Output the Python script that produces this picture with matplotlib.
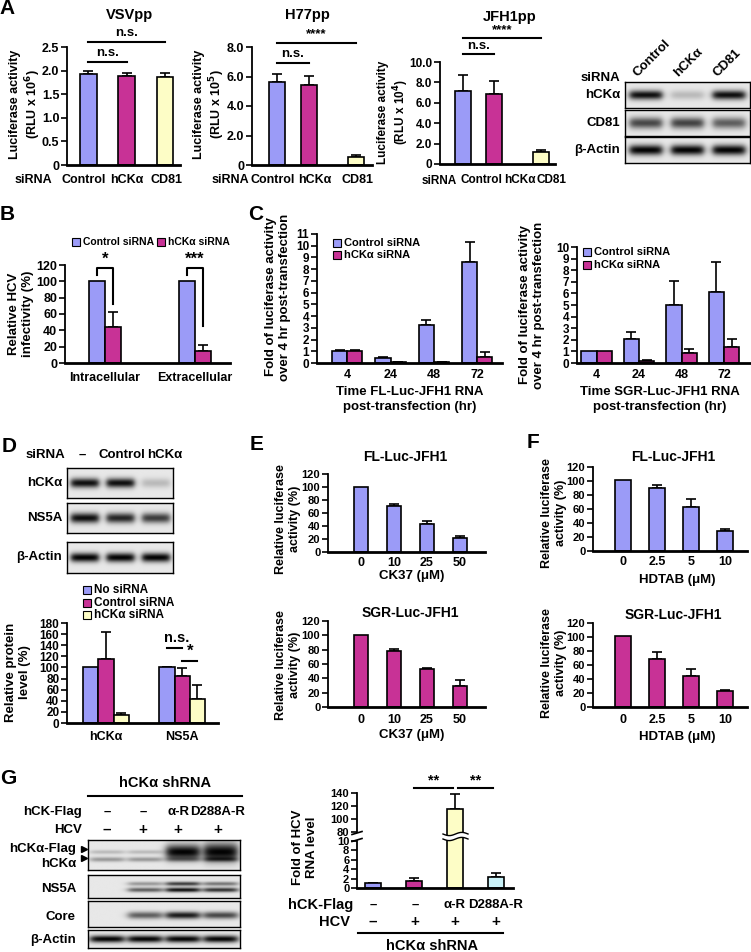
import numpy as np
import matplotlib
matplotlib.use('Agg')
import matplotlib.pyplot as plt
import matplotlib.font_manager as fm
from matplotlib.patches import Rectangle, Polygon
from matplotlib.lines import Line2D

names = {f.name for f in fm.fontManager.ttflist}
NARROW = 'Liberation Sans Narrow' if 'Liberation Sans Narrow' in names else 'Liberation Sans'
plt.rcParams['font.family'] = [NARROW, 'DejaVu Sans']
plt.rcParams['font.weight'] = 'bold'

W, H = 751, 952

# ---------------- data ----------------
a_labels = ['Control', 'hCKα', 'CD81']
vsv_mean = [1.92, 1.89, 1.87]
vsv_err = [0.07, 0.06, 0.07]
h77_mean = [5.65, 5.45, 0.55]
h77_err = [0.55, 0.6, 0.12]
jfh_mean = [7.2, 6.9, 1.2]
jfh_err = [1.5, 1.25, 0.2]

b_groups = ['Intracellular', 'Extracellular']
b_ctrl = [100, 100]
b_hcka = [44, 15]
b_hcka_err = [19, 7]

c_times = ['4', '24', '48', '72']
c_fl_ctrl = [1.0, 0.4, 3.25, 8.65]
c_fl_ctrl_err = [0.08, 0.12, 0.45, 1.65]
c_fl_hcka = [1.05, 0.05, 0.05, 0.55]
c_fl_hcka_err = [0.07, 0.02, 0.02, 0.35]
c_sgr_ctrl = [1.0, 2.05, 5.0, 6.15]
c_sgr_ctrl_err = [0.0, 0.6, 2.05, 2.6]
c_sgr_hcka = [1.0, 0.2, 0.85, 1.4]
c_sgr_hcka_err = [0.0, 0.05, 0.4, 0.7]

d_groups = ['hCKα', 'NS5A']
d_none = [100, 100]
d_none_err = [0, 1]
d_ctrl = [116, 84]
d_ctrl_err = [47, 15]
d_hcka = [14, 44]
d_hcka_err = [4, 25]

e_doses = ['0', '10', '25', '50']
e_fl = [100, 70, 43, 22]
e_fl_err = [0, 3.5, 5, 3]
e_sgr = [100, 78, 53, 29]
e_sgr_err = [0, 3, 2, 8]

f_doses = ['0', '2.5', '5', '10']
f_fl = [101, 90, 63, 29]
f_fl_err = [0, 4, 11, 3]
f_sgr = [101, 68, 45, 23]
f_sgr_err = [0, 10, 9, 2]

g_flag = ['–', '–', 'α-R', 'D288A-R']
g_hcv = ['–', '+', '+', '+']
g_rna = [1.0, 1.4, 115, 2.4]
g_rna_err = [0.1, 0.8, 23, 0.8]

# blot band darkness per lane (0 none .. 1 saturated)
a_blot_hcka = [0.95, 0.2, 0.95]
a_blot_cd81 = [0.7, 0.72, 0.6]
a_blot_actin = [1.0, 1.0, 1.0]
d_blot_hcka = [0.95, 0.95, 0.2]
d_blot_ns5a = [0.95, 0.85, 0.75]
d_blot_actin = [1.0, 1.0, 1.0]
g_blot_flag = [0.2, 0.2, 1.0, 1.0]
g_blot_endo = [0.35, 0.35, 0.3, 0.4]
g_blot_ns5a_up = [0.0, 0.35, 0.75, 0.5]
g_blot_ns5a_lo = [0.0, 0.6, 0.95, 0.8]
g_blot_core = [0.0, 0.6, 0.9, 0.7]
g_blot_actin = [1.0, 1.0, 1.0, 1.0]

BLUE = '#9b9bf7'
MAG = '#c83296'
YEL = '#fdfdc6'
CYAN = '#c9f1f7'

fig = plt.figure(figsize=(W / 100, H / 100), dpi=100)


def fx(x):
    return x / W


def fy(y):
    return 1 - y / H


def add_ax(x0, y0, x1, y1):
    return fig.add_axes([fx(x0), fy(y1), (x1 - x0) / W, (y1 - y0) / H])


def T(x, y, s, size=9, ha='center', va='center', rot=0, **kw):
    fig.text(fx(x), fy(y), s, fontsize=size, ha=ha, va=va, rotation=rot,
             fontweight='bold', **kw)


def letter(x, y, s):
    T(x, y, s, size=15, family='Liberation Sans')


def style(ax, ylim, yticks, xlim, ylabels=None, tsize=8, pad=5, xsize=9):
    for s in ['top', 'right']:
        ax.spines[s].set_visible(False)
    ax.spines['left'].set_linewidth(1.3)
    ax.spines['bottom'].set_linewidth(2)
    ax.set_ylim(*ylim)
    ax.set_xlim(*xlim)
    ax.set_yticks(yticks)
    if ylabels is not None:
        ax.set_yticklabels(ylabels)
    ax.tick_params(axis='y', direction='out', length=4, width=1.2,
                   labelsize=tsize, pad=1.5)
    ax.tick_params(axis='x', length=0, labelsize=xsize, pad=pad)
    ax.patch.set_alpha(0)


def bars(ax, pos, vals, errs, color, width):
    pos = np.asarray(pos, float)
    vals = np.asarray(vals, float)
    errs = np.asarray(errs, float)
    ax.bar(pos, vals, width, color=color, edgecolor='black', linewidth=1.2, zorder=2)
    m = errs > 0
    ax.errorbar(pos[m], vals[m], yerr=[np.zeros(m.sum()), errs[m]], fmt='none',
                ecolor='black', elinewidth=1.2, capsize=3.5, capthick=1.2, zorder=1)


def legend_item(x, y, color, label, size=8):
    fig.add_artist(Rectangle((fx(x), fy(y + 4)), 8 / W, 8 / H, facecolor=color,
                             edgecolor='black', lw=0.8, transform=fig.transFigure))
    T(x + 11, y, label, size=size, ha='left')


def blot(x0, y0, x1, y1, rows, bw=0.26):
    ax = add_ax(x0, y0, x1, y1)
    xs = np.linspace(0, 1, 300)
    ys = np.linspace(0, 1, 80)
    X, Y = np.meshgrid(xs, ys)
    img = np.full_like(X, 0.91)
    for levels, ypos, thick in rows:
        n = len(levels)
        thick = np.broadcast_to(thick, (n,))
        for i, lv in enumerate(levels):
            c = (i + 0.5) / n
            px_ = 1 / (1 + np.exp((np.abs(X - c) - bw / 2) / 0.015))
            py_ = np.exp(-((Y - ypos) / thick[i]) ** 2)
            img = img - lv * 0.9 * px_ * py_
    img = np.clip(img, 0, 1)
    ax.imshow(img, cmap='gray', vmin=0, vmax=1, aspect='auto',
              extent=(0, 1, 0, 1), origin='lower')
    ax.set_xticks([])
    ax.set_yticks([])
    for s in ax.spines.values():
        s.set_linewidth(1.0)
    return ax


# ================= A =================
letter(7, 9, 'A')
sig_kw = dict(color='black', lw=1.5, clip_on=False)

ax = add_ax(67, 47, 180, 165)
pos = np.array([0, 1, 2])
bars(ax, pos, vsv_mean, vsv_err, [BLUE, MAG, YEL], 0.44)
style(ax, (0, 2.5), [0, 0.5, 1.0, 1.5, 2.0, 2.5], (-0.55, 2.39),
      ['0', '0.5', '1.0', '1.5', '2.0', '2.5'], pad=6.5, tsize=9)
ax.set_xticks([-0.12, 1, 2.05], a_labels)
ax.plot([0, 2], [2.61, 2.61], **sig_kw)
ax.plot([0, 1], [2.18, 2.18], **sig_kw)
ax.text(1, 2.68, 'n.s.', ha='center', va='bottom', fontsize=9.5)
ax.text(0.5, 2.25, 'n.s.', ha='center', va='bottom', fontsize=9.5)
T(130, 15, 'VSVpp', size=10.5)
T(33, 180, 'siRNA', size=9)
T(26, 104, 'Luciferase activity\n(RLU x 10$^{\\mathbf{6}}$)', size=9, rot=90)

ax = add_ax(252, 47, 372, 165)
pos = np.array([0, 0.8, 2])
bars(ax, pos, h77_mean, h77_err, [BLUE, MAG, YEL], 0.4)
style(ax, (0, 8), [0, 2, 4, 6, 8], (-0.63, 2.4),
      ['0', '2.0', '4.0', '6.0', '8.0'], pad=6.5, tsize=9)
ax.set_xticks([-0.1, 0.96, 2.03], a_labels)
ax.plot([0, 2], [8.27, 8.27], **sig_kw)
ax.plot([0, 0.8], [6.92, 6.92], **sig_kw)
ax.text(1, 8.45, '****', ha='center', va='bottom', fontsize=9.5)
ax.text(0.4, 7.1, 'n.s.', ha='center', va='bottom', fontsize=9.5)
T(307, 15, 'H77pp', size=10.5)
T(230, 180, 'siRNA', size=9)
T(210, 104, 'Luciferase activity\n(RLU x 10$^{\\mathbf{5}}$)', size=9, rot=90)

ax = add_ax(440, 62, 555, 164)
pos = np.array([0, 0.8, 2])
bars(ax, pos, jfh_mean, jfh_err, [BLUE, MAG, YEL], 0.4)
style(ax, (0, 10), [0, 2, 4, 6, 8, 10], (-0.59, 2.36),
      ['0', '2.0', '4.0', '6.0', '8.0', '10.0'], pad=7.5, tsize=8.5, xsize=8.5)
ax.set_xticks([0.48, 1.46, 2.28], a_labels)
ax.plot([0, 2], [12.35, 12.35], **sig_kw)
ax.plot([0, 0.8], [10.8, 10.8], **sig_kw)
ax.text(1, 12.55, '****', ha='center', va='bottom', fontsize=9.5)
ax.text(0.4, 11.0, 'n.s.', ha='center', va='bottom', fontsize=9.5)
T(510, 17, 'JFH1pp', size=10.5)
T(439, 181, 'siRNA', size=8.5)
T(394, 112, 'Luciferase activity\n(RLU x 10$^{\\mathbf{4}}$)', size=8.5, rot=90)

# A blot
blot(625, 82, 750, 108, [(a_blot_hcka, 0.5, 0.18)])
blot(625, 110, 750, 136, [(a_blot_cd81, 0.5, 0.22)])
blot(625, 137, 750, 163, [(a_blot_actin, 0.5, 0.2)])
T(620, 78, 'siRNA', ha='right', size=9.5)
T(620, 95, 'hCKα', ha='right', size=9.5)
T(620, 123, 'CD81', ha='right', size=9.5)
T(620, 150, 'β-Actin', ha='right', size=9.5)
for lx, lab in zip([640, 680, 720], a_labels):
    fig.text(fx(lx), fy(79), lab, rotation=45, rotation_mode='anchor',
             ha='left', va='bottom', fontsize=9.5, fontweight='bold')

# ================= B =================
letter(7, 215, 'B')
ax = add_ax(65, 265, 230, 363)
pos = np.arange(2)
bars(ax, pos - 0.089, b_ctrl, [0, 0], BLUE, 0.178)
bars(ax, pos + 0.089, b_hcka, b_hcka_err, MAG, 0.178)
style(ax, (0, 120), np.arange(0, 121, 20), (-0.444, 1.389), pad=6.5, tsize=9)
ax.set_xticks(pos, b_groups)
ax.plot([-0.089, -0.089, 0.089, 0.089], [108, 116, 116, 72], **sig_kw)
ax.plot([0.911, 0.911, 1.089, 1.089], [108, 116, 116, 45], **sig_kw)
ax.text(0, 118, '*', ha='center', va='bottom', fontsize=12)
ax.text(1, 118, '***', ha='center', va='bottom', fontsize=12)
legend_item(72, 242, BLUE, 'Control siRNA', size=7.5)
legend_item(157, 242, MAG, 'hCKα siRNA', size=7.5)
T(21, 314, 'Relative HCV\ninfectivity (%)', size=9.5, rot=90)

# ================= C =================
letter(256, 215, 'C')
ax = add_ax(317, 234, 502, 363)
pos = np.arange(4)
bars(ax, pos - 0.175, c_fl_ctrl, c_fl_ctrl_err, BLUE, 0.35)
bars(ax, pos + 0.175, c_fl_hcka, c_fl_hcka_err, MAG, 0.35)
style(ax, (0, 11), np.arange(0, 12), (-0.70, 3.57), pad=4.3, tsize=8.5)
ax.set_xticks(pos, c_times)
legend_item(333, 243, BLUE, 'Control siRNA')
legend_item(333, 255, MAG, 'hCKα siRNA')
T(278, 297, 'Fold of luciferase activity\nover 4 hr post-transfection', size=9.5, rot=90)
T(410, 392, 'Time FL-Luc-JFH1 RNA', size=9.5)
T(410, 407, 'post-transfection (hr)', size=9.5)

ax = add_ax(577, 247, 750, 363)
bars(ax, pos - 0.18, c_sgr_ctrl, c_sgr_ctrl_err, BLUE, 0.36)
bars(ax, pos + 0.18, c_sgr_hcka, c_sgr_hcka_err, MAG, 0.36)
style(ax, (0, 10), np.arange(0, 11), (-0.46, 3.61), pad=4.3, tsize=8.5)
ax.set_xticks(pos, c_times)
legend_item(583, 252, BLUE, 'Control siRNA')
legend_item(583, 265, MAG, 'hCKα siRNA')
T(532, 305, 'Fold of luciferase activity\nover 4 hr post-transfection', size=9.5, rot=90)
T(660, 392, 'Time SGR-Luc-JFH1 RNA', size=9.5)
T(660, 407, 'post-transfection (hr)', size=9.5)

# ================= D =================
letter(9, 447, 'D')
T(45, 455, 'siRNA', size=9.5)
for lx, lab in zip([82, 122, 165], ['–', 'Control', 'hCKα']):
    T(lx, 455, lab, size=9.5)
blot(67, 468, 173, 498, [(d_blot_hcka, 0.5, 0.16)])
blot(67, 503, 173, 533, [(d_blot_ns5a, 0.5, 0.17)])
blot(67, 542, 173, 573, [(d_blot_actin, 0.5, 0.15)])
T(62, 483, 'hCKα', ha='right', size=9.5)
T(62, 518, 'NS5A', ha='right', size=9.5)
T(62, 557, 'β-Actin', ha='right', size=9.5)
legend_item(83, 590, BLUE, 'No siRNA', size=8.5)
legend_item(83, 603, MAG, 'Control siRNA', size=8.5)
legend_item(83, 615, YEL, 'hCKα siRNA', size=8.5)

ax = add_ax(67, 623, 218, 723)
pos = np.arange(2)
bars(ax, pos - 0.2, d_none, d_none_err, BLUE, 0.2)
bars(ax, pos, d_ctrl, d_ctrl_err, MAG, 0.2)
bars(ax, pos + 0.2, d_hcka, d_hcka_err, YEL, 0.2)
style(ax, (0, 180), np.arange(0, 181, 20), (-0.51, 1.47), pad=5.8, tsize=8.5)
ax.set_xticks(pos, d_groups)
ax.plot([0.8, 1.0], [135, 135], **sig_kw)
ax.plot([1.0, 1.2], [111.6, 111.6], **sig_kw)
ax.text(0.93, 141, 'n.s.', ha='center', va='bottom', fontsize=10.5)
ax.text(1.1, 115, '*', ha='center', va='bottom', fontsize=12)
T(18, 672, 'Relative protein\nlevel (%)', size=9.5, rot=90)

# ================= E =================
letter(257, 445, 'E')
pos = np.arange(4)
ax = add_ax(328, 474, 485, 552)
bars(ax, pos, e_fl, e_fl_err, BLUE, 0.45)
style(ax, (0, 120), np.arange(0, 121, 20), (-1.0, 3.76), pad=3.6)
ax.set_xticks(pos, e_doses)
T(405, 457, 'FL-Luc-JFH1', size=10)
T(412, 576, 'CK37 (μM)', size=9.5)
T(288, 519, 'Relative luciferase\nactivity (%)', size=9, rot=90)

ax = add_ax(328, 621, 485, 707)
bars(ax, pos, e_sgr, e_sgr_err, MAG, 0.45)
style(ax, (0, 120), np.arange(0, 121, 20), (-1.0, 3.76), pad=5)
ax.set_xticks(pos, e_doses)
T(410, 613, 'SGR-Luc-JFH1', size=10)
T(412, 735, 'CK37 (μM)', size=9.5)
T(288, 665, 'Relative luciferase\nactivity (%)', size=9, rot=90)

# ================= F =================
letter(533, 442, 'F')
ax = add_ax(593, 467, 747, 551)
bars(ax, pos, f_fl, f_fl_err, BLUE, 0.45)
style(ax, (0, 120), np.arange(0, 121, 20), (-0.88, 3.65), pad=3.6)
ax.set_xticks(pos, f_doses)
T(673, 457, 'FL-Luc-JFH1', size=10)
T(677, 580, 'HDTAB (μM)', size=9.5)
T(554, 513, 'Relative luciferase\nactivity (%)', size=9, rot=90)

ax = add_ax(593, 623, 747, 707)
bars(ax, pos, f_sgr, f_sgr_err, MAG, 0.45)
style(ax, (0, 120), np.arange(0, 121, 20), (-0.88, 3.65), pad=5)
ax.set_xticks(pos, f_doses)
T(673, 615, 'SGR-Luc-JFH1', size=10)
T(677, 737, 'HDTAB (μM)', size=9.5)
T(554, 663, 'Relative luciferase\nactivity (%)', size=9, rot=90)

# ================= G =================
letter(8, 778, 'G')
T(165, 783, 'hCKα shRNA', size=10.5)
fig.add_artist(Line2D([fx(88), fx(242)], [fy(796), fy(796)], color='black', lw=1.5))
T(82, 812, 'hCK-Flag', ha='right', size=9.5)
T(82, 830, 'HCV', ha='right', size=9.5)
for lx, f, h in zip([107, 143, 178, 218], g_flag, g_hcv):
    T(lx, 812, f, size=9.5)
    T(lx, 830, h, size=11)
blot(88, 840, 240, 870, [(g_blot_flag, 0.6, [0.07, 0.07, 0.25, 0.3]),
                         (g_blot_endo, 0.35, 0.08)], bw=0.22)
blot(88, 875, 240, 898, [(g_blot_ns5a_up, 0.62, 0.09),
                         (g_blot_ns5a_lo, 0.35, 0.1)], bw=0.22)
blot(88, 901, 240, 927, [(g_blot_core, 0.45, 0.14)], bw=0.22)
blot(88, 930, 240, 948, [(g_blot_actin, 0.5, 0.2)], bw=0.22)
T(76, 849, 'hCKα-Flag', ha='right', size=9.5)
T(76, 864, 'hCKα', ha='right', size=9.5)
T(76, 889, 'NS5A', ha='right', size=9.5)
T(76, 917, 'Core', ha='right', size=9.5)
T(76, 940, 'β-Actin', ha='right', size=9.5)
for ay in [849, 858]:
    fig.add_artist(Line2D([fx(84)], [fy(ay)], marker='>', ms=5, color='black'))

# G bars with broken axis
pos = np.arange(4)
gcols = [BLUE, MAG, YEL, CYAN]
axl = add_ax(357, 836, 513, 888)
bars(axl, pos, g_rna, g_rna_err, gcols, 0.39)
style(axl, (0, 10 * 52 / 47), np.arange(0, 11, 2), (-0.39, 3.41))
axl.spines['left'].set_bounds(0, 10)
axl.set_xticks([])
axu = add_ax(357, 793, 513, 836)
bars(axu, pos, g_rna, g_rna_err, gcols, 0.39)
style(axu, (140 - 60 * 43 / 39, 140), np.arange(80, 141, 20), (-0.39, 3.41))
axu.spines['bottom'].set_visible(False)
axu.spines['left'].set_bounds(80, 140)
axu.set_xticks([])
axu.plot([1, 1.95], [147.7, 147.7], **sig_kw)
axu.plot([2.07, 2.93], [147.7, 147.7], **sig_kw)
axu.text(1.47, 149, '**', ha='center', va='bottom', fontsize=10.5)
axu.text(2.5, 149, '**', ha='center', va='bottom', fontsize=10.5)

# break marks on bar and axis
xx = np.linspace(443, 468, 40)
wave = 1.6 * np.sin((xx - 443) / 25 * 2 * np.pi)
top = 834 + wave
bot = 839 + wave
poly = np.column_stack([np.r_[xx, xx[::-1]], np.r_[top, bot[::-1]]])
fig.add_artist(Polygon(np.column_stack([fx(poly[:, 0]), fy(poly[:, 1])]),
                       closed=True, facecolor='white', edgecolor='none',
                       transform=fig.transFigure, zorder=5))
for yy in (top, bot):
    fig.add_artist(Line2D(fx(xx), fy(yy), color='black', lw=1.0, zorder=6))
for yy in (833, 840):
    fig.add_artist(Line2D([fx(352), fx(362)], [fy(yy + 1.5), fy(yy - 1.5)],
                          color='black', lw=1.2))

T(305, 847, 'Fold of HCV\nRNA level', size=9.5, rot=90)
T(353, 905, 'hCK-Flag', ha='right', size=10.5)
T(350, 922, 'HCV', ha='right', size=10.5)
for lx, f, h in zip([373, 415, 455, 496], g_flag, g_hcv):
    T(lx, 905, f, size=9.5)
    T(lx, 922, h, size=11)
fig.add_artist(Line2D([fx(358), fx(503)], [fy(933), fy(933)], color='black', lw=1.5))
T(432, 946, 'hCKα shRNA', size=10.5)

fig.savefig('out.png', dpi=100)
